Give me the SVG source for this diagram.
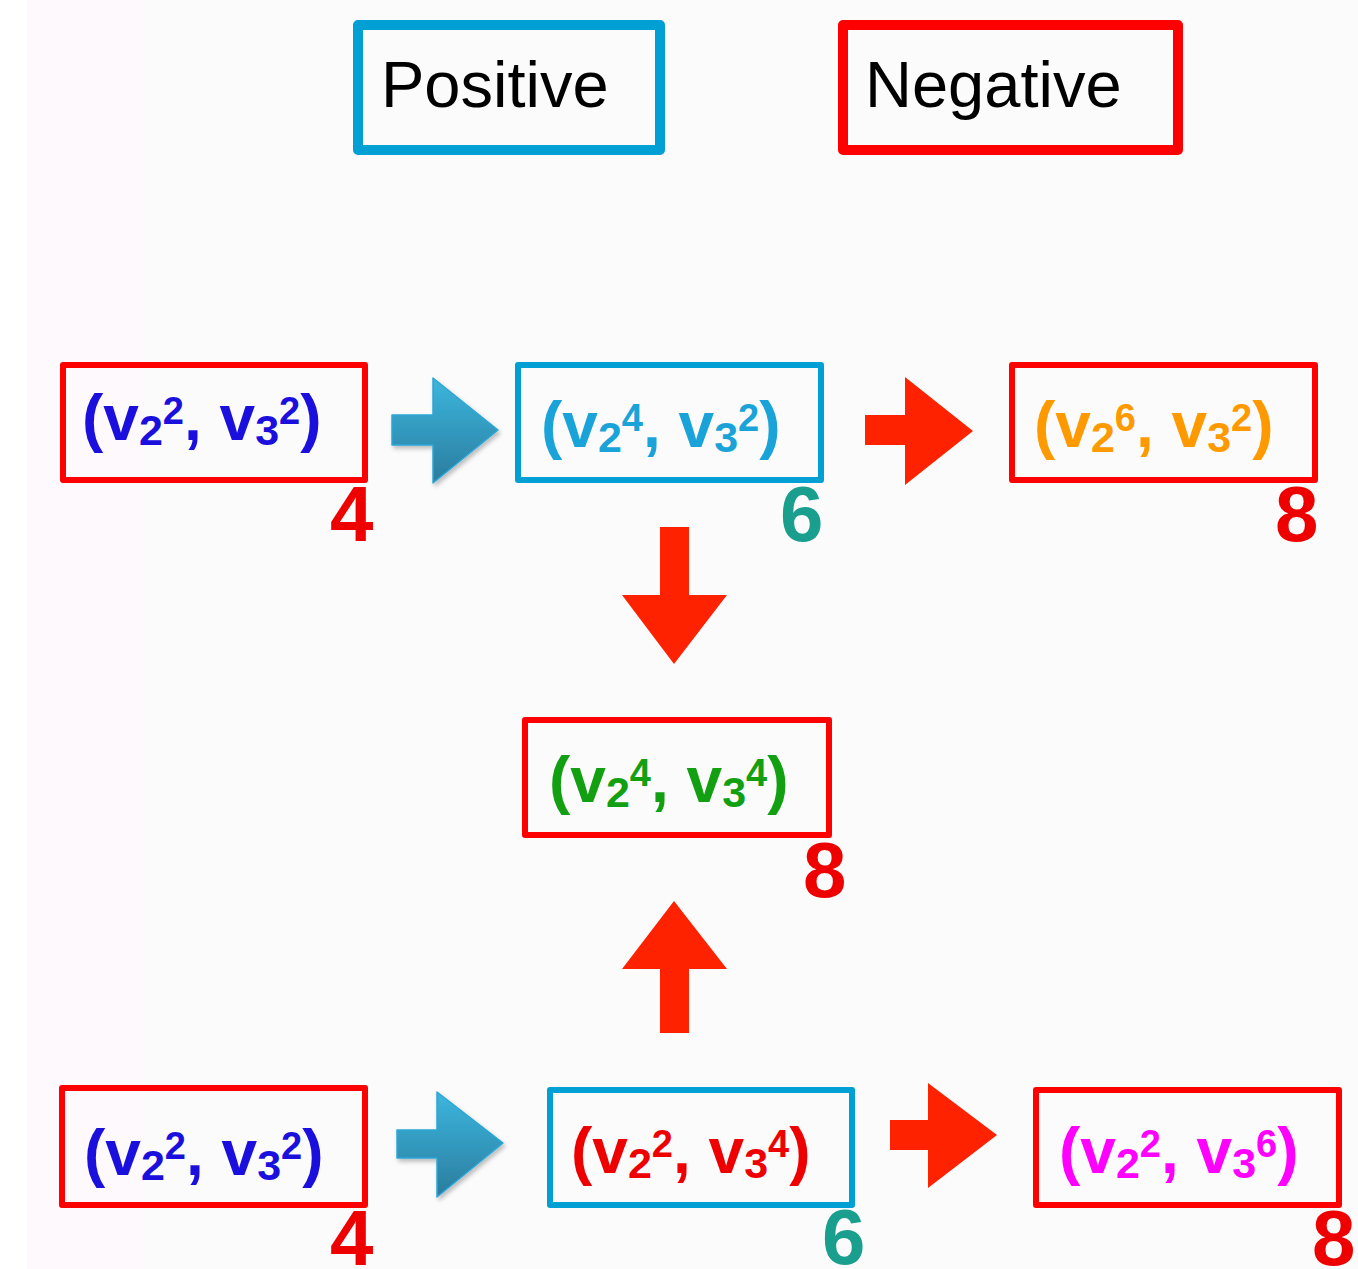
<svg xmlns="http://www.w3.org/2000/svg" width="1358" height="1269" viewBox="0 0 1358 1269">
<style>
.bg{fill:#fbfbfb}
.bx{fill:none;stroke-width:6;stroke-linejoin:round}
.hb{fill:none;stroke-width:10;stroke-linejoin:round}
.rd{stroke:#ff0000}
.bl{stroke:#009fd4}
.hd{font-family:"Liberation Sans",Arial,sans-serif;font-size:65px;fill:#000}
.t{font-family:"Liberation Sans",Arial,sans-serif;font-weight:bold;font-size:64px}
.s{font-size:43px}
.p{font-size:38px}
.n{font-family:"Liberation Sans",Arial,sans-serif;font-weight:bold;font-size:78px}
.nr{fill:#ee0000}
.nt{fill:#1a9e8e}
.ar{fill:#ff2200}
.ab{fill:url(#gb);stroke:#2ba6d6;stroke-width:1.5;stroke-linejoin:round}
</style>
<defs>
<linearGradient id="gb" x1="0" y1="0" x2="0" y2="1">
<stop offset="0" stop-color="#3cb6de"/>
<stop offset="1" stop-color="#2a7c9e"/>
</linearGradient>
<filter id="sh" x="-20%" y="-20%" width="140%" height="140%">
<feDropShadow dx="2" dy="3" stdDeviation="2" flood-color="#000" flood-opacity="0.25"/>
</filter>
</defs>
<rect class="bg" x="0" y="0" width="1358" height="1269"/>
<rect x="0" y="0" width="27" height="1269" fill="#ffffff"/>
<rect x="27" y="0" width="116" height="1269" fill="#fdf9fd"/>

<g id="legend-positive">
<rect class="hb bl" x="358" y="25" width="302" height="125" fill="#fff"/>
<text class="hd" x="381" y="107">Positive</text>
</g>
<g id="legend-negative">
<rect class="hb rd" x="843" y="25" width="335" height="125" fill="#fff"/>
<text class="hd" x="865" y="107">Negative</text>
</g>

<g id="connectors">
<path class="ab" filter="url(#sh)" d="M392,415 H433 V378 L498,430 L433,483 V445 H392 Z"/>
<path class="ar" d="M865,415 H905 V377 L973,431 L905,485 V445 H865 Z"/>
<path class="ar" d="M660,527 H689 V595 H727 L674,664 L622,595 H660 Z"/>
<path class="ar" d="M674,901 L727,969 H689 V1033 H660 V969 H622 Z"/>
<path class="ab" filter="url(#sh)" d="M397,1130 H437 V1092 L503,1143 L437,1197 V1158 H397 Z"/>
<path class="ar" d="M890,1120 H928 V1083 L997,1135 L928,1188 V1150 H890 Z"/>
</g>

<g id="n1">
<rect class="bx rd" x="63" y="365" width="302" height="115" fill="#fff"/>
<text class="t" x="82" y="440" fill="#1a0fdd">(v<tspan class="s" dy="5">2</tspan><tspan class="p" dy="-21">2</tspan><tspan dy="16">, v</tspan><tspan class="s" dy="5">3</tspan><tspan class="p" dy="-21">2</tspan><tspan dy="16">)</tspan></text>
<text class="n nr" x="330" y="541">4</text>
</g>
<g id="n2">
<rect class="bx bl" x="518" y="365" width="303" height="115" fill="#fff"/>
<text class="t" x="541" y="447" fill="#1aa3d8">(v<tspan class="s" dy="5">2</tspan><tspan class="p" dy="-21">4</tspan><tspan dy="16">, v</tspan><tspan class="s" dy="5">3</tspan><tspan class="p" dy="-21">2</tspan><tspan dy="16">)</tspan></text>
<text class="n nt" x="780" y="541">6</text>
</g>
<g id="n3">
<rect class="bx rd" x="1012" y="365" width="303" height="115" fill="#fff"/>
<text class="t" x="1034" y="447" fill="#ff9900">(v<tspan class="s" dy="5">2</tspan><tspan class="p" dy="-21">6</tspan><tspan dy="16">, v</tspan><tspan class="s" dy="5">3</tspan><tspan class="p" dy="-21">2</tspan><tspan dy="16">)</tspan></text>
<text class="n nr" x="1275" y="541">8</text>
</g>
<g id="n4">
<rect class="bx rd" x="525" y="720" width="304" height="115" fill="#fff"/>
<text class="t" x="549" y="802" fill="#12a012">(v<tspan class="s" dy="5">2</tspan><tspan class="p" dy="-21">4</tspan><tspan dy="16">, v</tspan><tspan class="s" dy="5">3</tspan><tspan class="p" dy="-21">4</tspan><tspan dy="16">)</tspan></text>
<text class="n nr" x="803" y="897">8</text>
</g>
<g id="n5">
<rect class="bx rd" x="62" y="1088" width="303" height="117" fill="#fff"/>
<text class="t" x="84" y="1175" fill="#1a0fdd">(v<tspan class="s" dy="5">2</tspan><tspan class="p" dy="-21">2</tspan><tspan dy="16">, v</tspan><tspan class="s" dy="5">3</tspan><tspan class="p" dy="-21">2</tspan><tspan dy="16">)</tspan></text>
<text class="n nr" x="330" y="1265">4</text>
</g>
<g id="n6">
<rect class="bx bl" x="550" y="1090" width="302" height="115" fill="#fff"/>
<text class="t" x="571" y="1173" fill="#ee0000">(v<tspan class="s" dy="5">2</tspan><tspan class="p" dy="-21">2</tspan><tspan dy="16">, v</tspan><tspan class="s" dy="5">3</tspan><tspan class="p" dy="-21">4</tspan><tspan dy="16">)</tspan></text>
<text class="n nt" x="822" y="1264">6</text>
</g>
<g id="n7">
<rect class="bx rd" x="1036" y="1090" width="303" height="115" fill="#fff"/>
<text class="t" x="1059" y="1173" fill="#ff00ff">(v<tspan class="s" dy="5">2</tspan><tspan class="p" dy="-21">2</tspan><tspan dy="16">, v</tspan><tspan class="s" dy="5">3</tspan><tspan class="p" dy="-21">6</tspan><tspan dy="16">)</tspan></text>
<text class="n nr" x="1312" y="1265">8</text>
</g>
</svg>
